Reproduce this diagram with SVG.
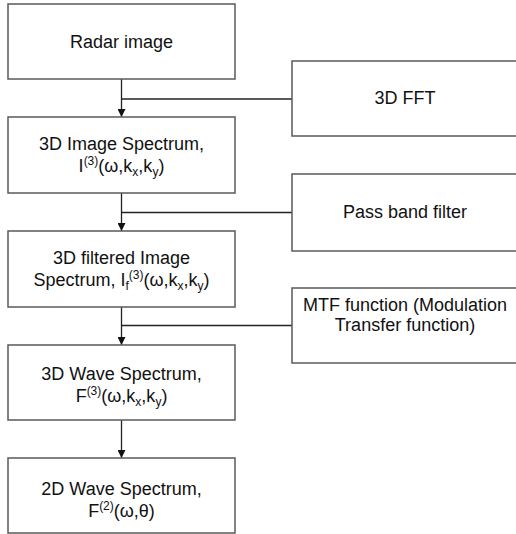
<svg xmlns="http://www.w3.org/2000/svg" width="516" height="534" viewBox="0 0 516 534">
<style>
.box{fill:#fff;stroke:#5a5a5a;stroke-width:1.5}
.t{font-family:"Liberation Sans",Arial,sans-serif;font-size:18px;fill:#111;text-anchor:middle}
.s{font-size:12px}
.c{fill:none;stroke:#222;stroke-width:1.3}
</style>
<defs>
<marker id="arr" viewBox="0 0 10 10" refX="10" refY="5" markerWidth="8" markerHeight="8" markerUnits="userSpaceOnUse" orient="auto">
<path d="M0,0 L10,5 L0,10 Z" fill="#111"/>
</marker>
</defs>
<g id="connectors">
<line class="c" x1="121.5" y1="79" x2="121.5" y2="117" marker-end="url(#arr)"/>
<line class="c" x1="121.5" y1="99" x2="292" y2="99"/>
<line class="c" x1="121.5" y1="193" x2="121.5" y2="231" marker-end="url(#arr)"/>
<line class="c" x1="121.5" y1="212.5" x2="292" y2="212.5"/>
<line class="c" x1="121.5" y1="307" x2="121.5" y2="345" marker-end="url(#arr)"/>
<line class="c" x1="121.5" y1="325.5" x2="292" y2="325.5"/>
<line class="c" x1="121.5" y1="420" x2="121.5" y2="458" marker-end="url(#arr)"/>
</g>
<g id="radar">
<rect class="box" x="8" y="4" width="227" height="75"/>
<text class="t" x="121.5" y="48">Radar image</text>
</g>
<g id="fft">
<rect class="box" x="292" y="61" width="230" height="75"/>
<text class="t" x="405" y="104">3D FFT</text>
</g>
<g id="spec3">
<rect class="box" x="8" y="117" width="227" height="76"/>
<text class="t" x="121.5" y="150">3D Image Spectrum,</text>
<text class="t" x="121.5" y="172">I<tspan class="s" dy="-7">(3)</tspan><tspan dy="7">(ω,k</tspan><tspan class="s" dy="4">x</tspan><tspan dy="-4">,k</tspan><tspan class="s" dy="4">y</tspan><tspan dy="-4">)</tspan></text>
</g>
<g id="passband">
<rect class="box" x="292" y="174" width="230" height="77"/>
<text class="t" x="405" y="218">Pass band filter</text>
</g>
<g id="filtered">
<rect class="box" x="8" y="231" width="227" height="76"/>
<text class="t" x="121.5" y="264">3D filtered Image</text>
<text class="t" x="121.5" y="286">Spectrum, I<tspan class="s" dy="4">f</tspan><tspan class="s" dy="-11">(3)</tspan><tspan dy="7">(ω,k</tspan><tspan class="s" dy="4">x</tspan><tspan dy="-4">,k</tspan><tspan class="s" dy="4">y</tspan><tspan dy="-4">)</tspan></text>
</g>
<g id="mtf">
<rect class="box" x="292" y="288" width="230" height="75"/>
<text class="t" x="405" y="311">MTF function (Modulation</text>
<text class="t" x="405" y="331">Transfer function)</text>
</g>
<g id="wave3">
<rect class="box" x="8" y="345" width="227" height="75"/>
<text class="t" x="121.5" y="380">3D Wave Spectrum,</text>
<text class="t" x="121.5" y="402">F<tspan class="s" dy="-7">(3)</tspan><tspan dy="7">(ω,k</tspan><tspan class="s" dy="4">x</tspan><tspan dy="-4">,k</tspan><tspan class="s" dy="4">y</tspan><tspan dy="-4">)</tspan></text>
</g>
<g id="wave2">
<rect class="box" x="8" y="458" width="227" height="75"/>
<text class="t" x="121.5" y="495">2D Wave Spectrum,</text>
<text class="t" x="121.5" y="517">F<tspan class="s" dy="-7">(2)</tspan><tspan dy="7">(ω,θ)</tspan></text>
</g>
</svg>
